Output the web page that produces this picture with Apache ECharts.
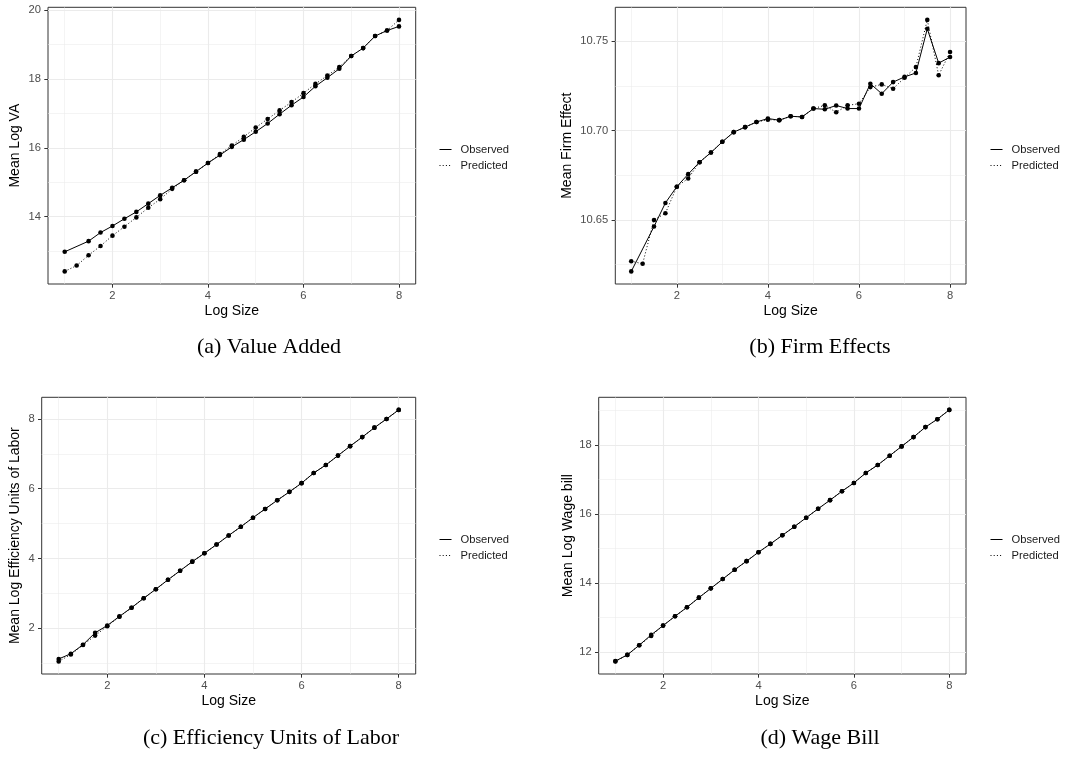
<!DOCTYPE html>
<html><head><meta charset="utf-8">
<script src="https://cdn.jsdelivr.net/npm/echarts@6/dist/echarts.min.js"></script>
<style>html,body{margin:0;padding:0;background:#fff}#c{width:1068px;height:757px}</style>
</head><body><div id="c"></div>
<script>
// ---- data ----
const logSize = [1,1.25,1.5,1.75,2,2.25,2.5,2.75,3,3.25,3.5,3.75,4,4.25,4.5,4.75,5,5.25,5.5,5.75,6,6.25,6.5,6.75,7,7.25,7.5,7.75,8];
const seriesNames = ['Observed','Predicted'];
const xMajorTicks = [2,4,6,8];
const xMinorTicks = [1,3,5,7];

const vaObs  = [12.98,null,13.29,13.54,13.73,13.94,14.14,14.38,14.62,14.84,15.06,15.31,15.56,15.79,16.03,16.24,16.47,16.71,16.98,17.24,17.48,17.79,18.04,18.30,18.67,18.90,19.25,19.41,19.53];
const vaPred = [12.41,12.58,12.88,13.15,13.45,13.71,13.98,14.26,14.51,14.81,15.06,15.31,15.56,15.82,16.07,16.32,16.59,16.84,17.09,17.33,17.59,17.86,18.10,18.35,18.67,18.90,19.25,19.41,19.72];
const vaTicks = [14,16,18,20];
const vaMinor = [13,15,17,19];

const feObs  = [10.6212,null,10.6463,10.6595,10.6686,10.6756,10.6823,10.6877,10.6937,10.6991,10.7019,10.7048,10.7067,10.7058,10.7080,10.7076,10.7123,10.7119,10.7140,10.7123,10.7123,10.7262,10.7206,10.7271,10.7300,10.7322,10.7569,10.7377,10.7411];
const fePred = [10.6269,10.6255,10.6500,10.6537,10.6686,10.6732,10.6823,10.6877,10.6937,10.6991,10.7019,10.7048,10.7061,10.7058,10.7080,10.7076,10.7123,10.7141,10.7102,10.7141,10.7150,10.7243,10.7258,10.7234,10.7295,10.7355,10.7619,10.7309,10.7439];
const feTicks = [10.65,10.70,10.75];
const feMinor = [10.625,10.675,10.725];

const euObs  = [1.12,1.27,1.53,1.87,2.08,2.34,2.59,2.86,3.12,3.39,3.65,3.91,4.15,4.40,4.66,4.91,5.17,5.42,5.67,5.91,6.16,6.45,6.68,6.95,7.22,7.48,7.75,8.00,8.26];
const euPred = [1.05,1.25,1.52,1.79,2.06,2.33,2.59,2.86,3.12,3.39,3.65,3.91,4.15,4.40,4.66,4.91,5.17,5.42,5.67,5.91,6.16,6.45,6.68,6.95,7.22,7.48,7.75,8.00,8.26];
const euTicks = [2,4,6,8];
const euMinor = [1,3,5,7];

const wbObs  = [11.73,11.91,12.19,12.49,12.76,13.03,13.29,13.57,13.84,14.11,14.38,14.63,14.89,15.13,15.38,15.63,15.89,16.15,16.40,16.66,16.90,17.19,17.42,17.69,17.96,18.23,18.52,18.75,19.02];
const wbPred = [11.72,11.91,12.19,12.46,12.76,13.03,13.29,13.57,13.84,14.11,14.38,14.63,14.89,15.13,15.38,15.63,15.89,16.15,16.40,16.66,16.90,17.19,17.42,17.69,17.96,18.23,18.52,18.75,19.02];
const wbTicks = [12,14,16,18];
const wbMinor = [13,15,17,19];

const yTitles = ['Mean Log VA','Mean Firm Effect','Mean Log Efficiency Units of Labor','Mean Log Wage bill'];
const captions = ['(a) Value Added','(b) Firm Effects','(c) Efficiency Units of Labor','(d) Wage Bill'];
const xTitle = 'Log Size';

// ---- layout / styling ----
const SANS = '"Liberation Sans", Arial, Helvetica, sans-serif';
const SERIF = '"Liberation Serif", "Times New Roman", serif';
const panels = [
  {obs: vaObs, pred: vaPred, ticks: vaTicks, minor: vaMinor, dec: 0,
   grid: {left: 48, top: 7.3, width: 367.7, height: 276.7}, gapY: 26,
   legend: {left: 439, top: 144}, cap: {x: 269, y: 336}},
  {obs: feObs, pred: fePred, ticks: feTicks, minor: feMinor, dec: 2,
   grid: {left: 615.3, top: 7.3, width: 350.7, height: 276.7}, gapY: 41,
   legend: {left: 990, top: 144}, cap: {x: 820, y: 336}},
  {obs: euObs, pred: euPred, ticks: euTicks, minor: euMinor, dec: 0,
   grid: {left: 41.7, top: 397.3, width: 374, height: 276.7}, gapY: 20,
   legend: {left: 439, top: 534}, cap: {x: 271, y: 727}},
  {obs: wbObs, pred: wbPred, ticks: wbTicks, minor: wbMinor, dec: 0,
   grid: {left: 598.7, top: 397.3, width: 367.3, height: 276.7}, gapY: 24,
   legend: {left: 990, top: 534}, cap: {x: 820, y: 727}}
];

function expand(vals) {
  const v = vals.filter(d => d != null);
  const lo = Math.min(...v), hi = Math.max(...v), r = hi - lo;
  return [lo - 0.05 * r, hi + 0.05 * r];
}
const xr = expand(logSize);

const option = {
  animation: false,
  backgroundColor: '#fff',
  grid: [], xAxis: [], yAxis: [], series: [], legend: [], title: []
};

panels.forEach((p, i) => {
  option.grid.push(Object.assign({show: true, borderColor: '#333333', borderWidth: 1, backgroundColor: '#fff', outerBoundsMode: 'none', containLabel: false}, p.grid));
  const yr = expand(p.obs.concat(p.pred));
  option.xAxis.push({
    type: 'value', gridIndex: i, min: xr[0], max: xr[1], position: 'bottom',
    name: xTitle, nameLocation: 'middle', nameGap: 20.5,
    nameTextStyle: {fontFamily: SANS, fontSize: 14, color: '#000'},
    axisLine: {show: false},
    axisTick: {show: true, inside: false, customValues: xMajorTicks, length: 3.7, lineStyle: {color: '#333333', width: 1}},
    axisLabel: {customValues: xMajorTicks, margin: 6.5, fontFamily: SANS, fontSize: 11.2, color: '#4d4d4d', formatter: v => String(Math.round(v))},
    splitLine: {show: true, lineStyle: {color: '#ebebeb', width: 1.1}}
  });
  option.yAxis.push({
    type: 'value', gridIndex: i, min: yr[0], max: yr[1], position: 'left',
    name: yTitles[i], nameLocation: 'middle', nameGap: p.gapY, nameRotate: 90,
    nameTextStyle: {fontFamily: SANS, fontSize: 14, color: '#000'},
    axisLine: {show: false},
    axisTick: {show: true, inside: false, customValues: p.ticks, length: 3.7, lineStyle: {color: '#333333', width: 1}},
    axisLabel: {customValues: p.ticks, margin: 7, fontFamily: SANS, fontSize: 11.2, color: '#4d4d4d', formatter: v => v.toFixed(p.dec)},
    splitLine: {show: true, lineStyle: {color: '#ebebeb', width: 1.1}}
  });
  option.xAxis.push({
    type: 'value', gridIndex: i, min: xr[0], max: xr[1], position: 'top',
    axisLine: {show: false}, axisLabel: {show: false},
    axisTick: {show: false, customValues: xMinorTicks},
    splitLine: {show: true, lineStyle: {color: '#ebebeb', width: 0.55}}
  });
  option.yAxis.push({
    type: 'value', gridIndex: i, min: yr[0], max: yr[1], position: 'right',
    axisLine: {show: false}, axisLabel: {show: false},
    axisTick: {show: false, customValues: p.minor},
    splitLine: {show: true, lineStyle: {color: '#ebebeb', width: 0.55}}
  });
  const mk = (vals) => logSize.map((x, k) => [x, vals[k]]).filter(d => d[1] != null);
  option.series.push({
    type: 'line', name: seriesNames[0], xAxisIndex: 2 * i, yAxisIndex: 2 * i,
    data: mk(p.obs), symbol: 'circle', symbolSize: 4.6, showSymbol: true,
    itemStyle: {color: '#000'}, lineStyle: {color: '#000', width: 1, type: 'solid'}, z: 3
  });
  option.series.push({
    type: 'line', name: seriesNames[1], xAxisIndex: 2 * i, yAxisIndex: 2 * i,
    data: mk(p.pred), symbol: 'circle', symbolSize: 4.6, showSymbol: true,
    itemStyle: {color: '#000'}, lineStyle: {color: '#000', width: 1, type: [1, 2.2]}, z: 3
  });
  option.legend.push({
    data: seriesNames, orient: 'vertical', left: p.legend.left, top: p.legend.top,
    itemWidth: 12, itemHeight: 10, itemGap: 5, padding: 0, selectedMode: false,
    itemStyle: {opacity: 0},
    lineStyle: {width: 1},
    textStyle: {fontFamily: SANS, fontSize: 11.2, color: '#1a1a1a', padding: [0, 0, 0, 4]}
  });
  option.title.push({
    text: captions[i], left: p.cap.x, top: p.cap.y, textAlign: 'center', padding: 0,
    textStyle: {fontFamily: SERIF, fontSize: 22, fontWeight: 'normal', color: '#000'}
  });
});

const chart = echarts.init(document.getElementById('c'), null, {renderer: 'canvas'});
chart.setOption(option);
</script>
</body></html>
